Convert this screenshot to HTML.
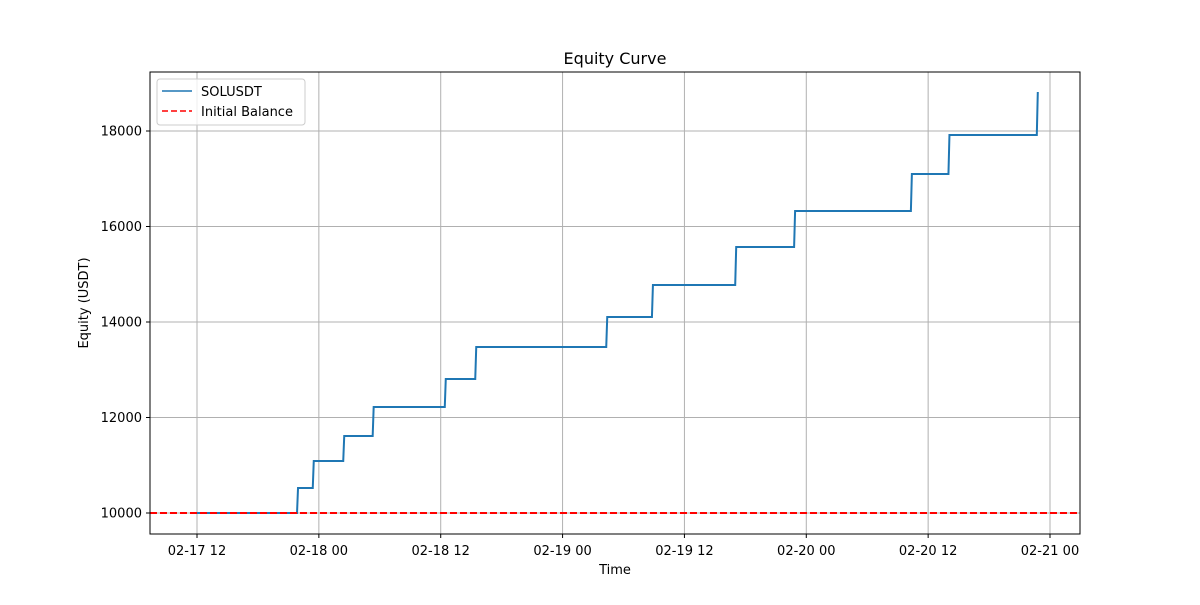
<!DOCTYPE html>
<html><head><meta charset="utf-8"><style>
body{margin:0;background:#fff;}
svg text{font-family:"DejaVu Sans","Liberation Sans",sans-serif;fill:#000;}
</style></head><body>
<svg id="chart" width="1200" height="600" viewBox="0 0 1200 600" xmlns="http://www.w3.org/2000/svg">
<rect width="1200" height="600" fill="#fff"/>
<g id="grid"></g>
<g id="plot"></g>
<rect x="150" y="72" width="930" height="462" fill="none" stroke="#000" stroke-width="1"/>
<g id="axes"></g>
<text x="615" y="64" font-size="16" text-anchor="middle">Equity Curve</text>
<text x="615" y="574" font-size="13" text-anchor="middle">Time</text>
<text transform="translate(88,303) rotate(-90)" font-size="13" text-anchor="middle">Equity (USDT)</text>
<g>
<rect x="157" y="79" width="148" height="46" rx="3" fill="#fff" fill-opacity="0.8" stroke="#ccc"/>
<line x1="162" y1="91" x2="192" y2="91" stroke="#1f77b4" stroke-width="1.6"/>
<text x="201" y="96" font-size="13">SOLUSDT</text>
<line x1="162" y1="111" x2="192" y2="111" stroke="#ff0000" stroke-width="1.6" stroke-dasharray="6,3"/>
<text x="201" y="116" font-size="13">Initial Balance</text>
</g>
</svg>
<script>
// hours since 02-17 12:00
const stepHours = [-0.4, 9.85, 11.4, 14.4, 17.3, 24.4, 27.4, 40.3, 44.8, 53.0, 58.8, 70.3, 74.0, 82.7];
const equity = [10000, 10524, 11089, 11612, 12220, 12806, 13476, 14105, 14775, 15571, 16325, 17100, 17916, 18817];
const yTicks = [10000, 12000, 14000, 16000, 18000];
const xTickHours = [0, 12, 24, 36, 48, 60, 72, 84];
const xTickLabels = ["02-17 12", "02-18 00", "02-18 12", "02-19 00", "02-19 12", "02-20 00", "02-20 12", "02-21 00"];
const initialBalance = 10000;

const NS = "http://www.w3.org/2000/svg";
const X = h => 197 + h * (853 / 84);
const Y = v => 513 - (v - 10000) * (382 / 8000);
const grid = document.getElementById('grid'), plot = document.getElementById('plot'), axes = document.getElementById('axes');
function mk(tag, attrs, parent){const e=document.createElementNS(NS,tag);for(const k in attrs)e.setAttribute(k,attrs[k]);parent.appendChild(e);return e;}

xTickHours.forEach((h,i)=>{
  const x = X(h);
  const g = mk('line',{x1:x,x2:x,y1:72,y2:534,stroke:'#b0b0b0','stroke-width':1},grid);
  
  
  mk('line',{x1:x,x2:x,y1:534,y2:538,stroke:'#000'},axes);
  const t = mk('text',{x:x,y:555,'font-size':13,'text-anchor':'middle'},axes);
  t.textContent = xTickLabels[i];
  
  
});
yTicks.forEach(v=>{
  const y = Y(v);
  const g = mk('line',{x1:150,x2:1080,y1:y,y2:y,stroke:'#b0b0b0','stroke-width':1},grid);
  
  
  mk('line',{x1:146,x2:150,y1:y,y2:y,stroke:'#000'},axes);
  const t = mk('text',{x:142,y:y+4.5,'font-size':13,'text-anchor':'end'},axes);
  t.textContent = v;
  
  
});

let d = `M${X(stepHours[0])},${Y(equity[0])}`;
for(let i=1;i<stepHours.length;i++){
  d += ` L${X(stepHours[i])},${Y(equity[i-1])} L${X(stepHours[i])+1},${Y(equity[i])}`;
}
const line = mk('path',{d:d,fill:'none',stroke:'#1f77b4','stroke-width':2},plot);


const base = mk('line',{x1:150,x2:1080,y1:Y(initialBalance),y2:Y(initialBalance),stroke:'#ff0000','stroke-width':2,'stroke-dasharray':'7,3'},plot);


</script>
</body></html>
